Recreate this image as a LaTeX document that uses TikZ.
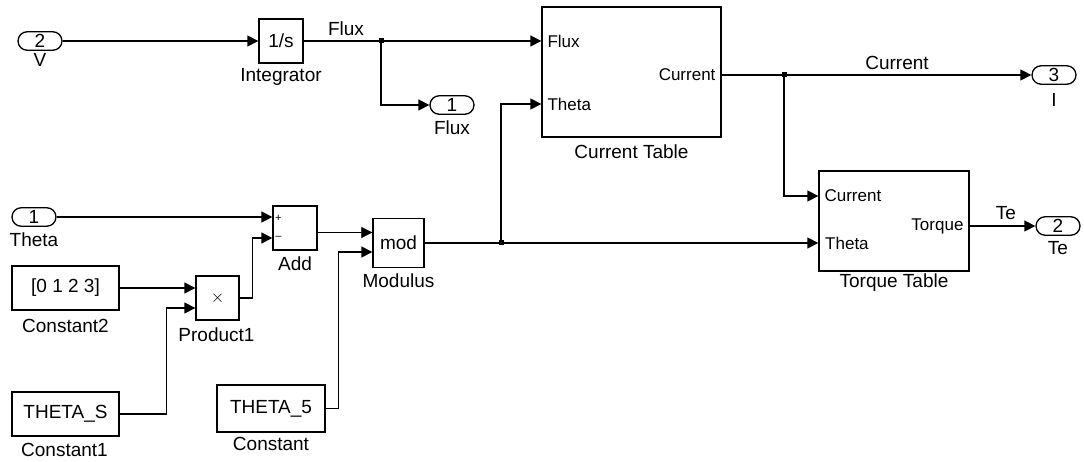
\documentclass[tikz,border=0pt]{standalone}
\usepackage{fontspec}
\setmainfont{Liberation Sans}
\usetikzlibrary{arrows.meta,shapes.misc,calc}
\begin{document}
\begin{tikzpicture}[x=1pt,y=-1pt,
 blk/.style={draw,line width=1.3pt,inner sep=0pt,font=\fontsize{19}{19}\selectfont},
 port/.style={draw,line width=1.3pt,rounded rectangle,minimum width=44pt,minimum height=18.5pt,inner sep=0pt,font=\fontsize{19}{19}\selectfont},
 lbl/.style={font=\fontsize{19}{19}\selectfont,inner sep=0pt},
 plbl/.style={font=\fontsize{17}{17}\selectfont,inner sep=0pt},
 sgn/.style={font=\fontsize{11}{11}\selectfont,inner sep=0pt},
 sig/.style={line width=1.3pt,-{Triangle[length=11pt,width=11pt]}},
 wire/.style={line width=1.3pt},
 dot/.style={fill,minimum size=5pt,inner sep=0pt}
]
\useasboundingbox (0,0) rectangle (1084,462);

% ports
\node[port] (v) at (40,41) {2};
\node[lbl] (vl) at (40,60) {V};
\node[port] (fluxo) at (452,105) {1};
\node[lbl] (fluxol) at (452,128) {Flux};
\node[port] (iport) at (1054,75) {3};
\node[lbl] (iportl) at (1054,100) {I};
\node[port] (teport) at (1058,226) {2};
\node[lbl] (teportl) at (1058,248) {Te};
\node[port] (thin) at (34,217) {1};
\node[lbl] (thinl) at (34,240) {Theta};

% blocks
\node[blk,minimum width=44pt,minimum height=44pt] (int) at (281,41) {1/s};
\node[lbl] (intl) at (281,77) {Integrator};

\node[blk,minimum width=179pt,minimum height=130pt] (ct) at (631.5,72) {};
\node[lbl] (ctl) at (631.5,152) {Current Table};
\node[plbl,anchor=west] (ctf) at ($(ct.west)+(6,-31)$) {Flux};
\node[plbl,anchor=west] (ctt) at ($(ct.west)+(6,32)$) {Theta};
\node[plbl,anchor=east] (ctc) at ($(ct.east)+(-6,3)$) {Current};

\node[blk,minimum width=150pt,minimum height=100pt] (tt) at (894,221) {};
\node[lbl] (ttl) at (894,283) {Torque Table};
\node[plbl,anchor=west] (ttc) at ($(tt.west)+(6,-25)$) {Current};
\node[plbl,anchor=west] (ttt) at (825,243) {Theta};
\node[plbl,anchor=east] (tto) at ($(tt.east)+(-6,5)$) {Torque};

\node[blk,minimum width=44pt,minimum height=44pt] (add) at (295,228) {};
\node[lbl] (addl) at (295,264) {Add};
\node[sgn] (addp) at ($(add.west)+(6,-10)$) {+};
\node[sgn] (addm) at ($(add.west)+(6,10)$) {\textendash};

\node[blk,minimum width=107pt,minimum height=44pt] (c2) at (65.5,288) {[0 1 2 3]};
\node[lbl] (c2l) at (65.5,326) {Constant2};

\node[blk,minimum width=43pt,minimum height=44pt] (prod) at (217.5,298) {$\times$};
\node[lbl] (prodl) at (216.5,335) {Product1};

\node[blk,minimum width=107pt,minimum height=44pt] (c1) at (65.5,414) {THETA\_S};
\node[lbl] (c1l) at (64.5,450) {Constant1};

\node[blk,minimum width=108pt,minimum height=47pt] (c) at (271,408.5) {THETA\_5};
\node[lbl] (cl) at (271,444) {Constant};

\node[blk,minimum width=51pt,minimum height=49pt] (mod) at (398.5,243) {mod};
\node[lbl] (modl) at (398.5,281) {Modulus};

% signal labels
\node[lbl] (fluxs) at (346,29) {Flux};
\node[lbl] (curs) at (897,63) {Current};
\node[lbl] (tes) at (1006,213) {Te};

% branch points
\node[dot] (d1) at (381,41) {};
\node[dot] (d2) at (784,75) {};
\node[dot] (d3) at (501,243) {};

\coordinate (m1) at ($(mod.west)+(0,-10.5)$);
\coordinate (m2) at ($(mod.west)+(0,9)$);

% connectors
\draw[sig] (v.east) -- (int.west);
\draw[sig] (int.east) -- (ct.west |- int.east);
\draw[sig] (d1.center) |- (fluxo.west);
\draw[sig] ($(ct.east)+(0,3)$) -- (iport.west);
\draw[sig] (d2.center) |- ($(tt.west)+(0,-25)$);
\draw[sig] ($(tt.east)+(0,5)$) -- (teport.west);
\draw[sig] (thin.east) -- ($(add.west)+(0,-11)$);
\draw[sig] (c2.east) -- (prod.west |- c2.east);
\draw[sig] (c1.east) -- ++(47,0) |- ($(prod.west)+(0,10)$);
\draw[sig] (prod.east) -- ++(13,0) |- ($(add.west)+(0,10)$);
\draw[line width=0.7pt,-{Triangle[length=11pt,width=11pt]}] (add.east |- m1) -- (m1);
\draw[sig] (c.east) -- ++(13,0) |- (m2);
\draw[sig] (mod.east) -- (tt.west |- mod.east);
\draw[sig] (d3.center) |- ($(ct.west)+(0,32)$);
\end{tikzpicture}
\end{document}
